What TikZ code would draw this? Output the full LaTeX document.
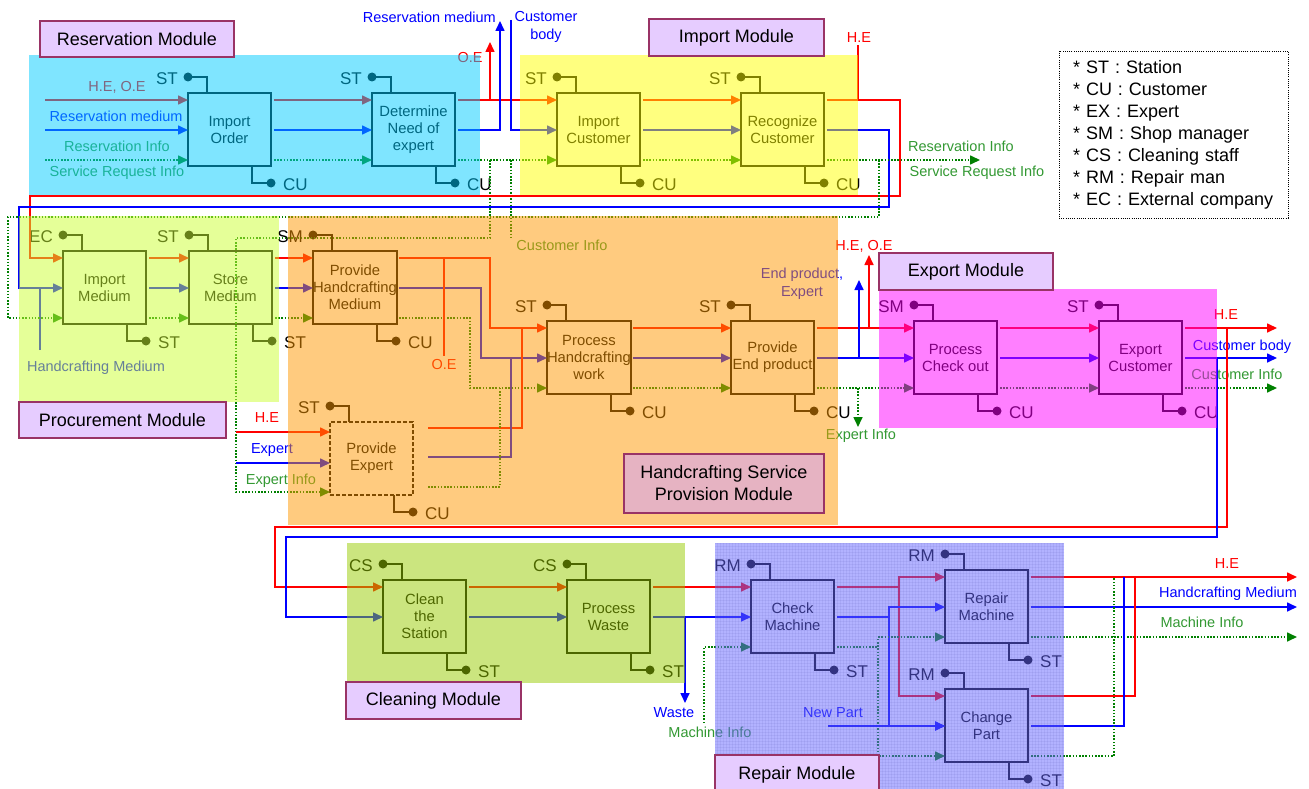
\documentclass[tikz,border=0pt]{standalone}
\usepackage{fontspec}
\setmainfont{Liberation Sans}
\usetikzlibrary{arrows.meta,patterns}
\definecolor{cRed}{RGB}{255,0,0}
\definecolor{cBlue}{RGB}{0,0,255}
\definecolor{cGreen}{RGB}{0,128,0}
\definecolor{tGreen}{RGB}{51,153,51}
\definecolor{ovCyan}{RGB}{0,204,255}
\definecolor{ovYellow}{RGB}{255,255,0}
\definecolor{ovProc}{RGB}{204,255,51}
\definecolor{ovOrange}{RGB}{255,153,0}
\definecolor{ovMag}{RGB}{255,0,255}
\definecolor{ovClean}{RGB}{153,204,0}
\definecolor{ovRepair}{RGB}{102,102,255}
\definecolor{modF}{RGB}{230,204,255}
\definecolor{modFb}{RGB}{230,179,194}
\definecolor{modB}{RGB}{153,51,102}
\newcommand\dgBoxFont{\fontsize{14.8}{17}\selectfont}
\newcommand\dgLabFont{\fontsize{14.5}{18}\selectfont}
\newcommand\dgActFont{\fontsize{17}{20}\selectfont}
\newcommand\dgModFont{\fontsize{18}{22}\selectfont}
\tikzset{
  procbox/.style={draw=black, line width=1.3pt, minimum width=83pt, minimum height=73pt,
    inner sep=0pt, outer sep=0pt, align=center, font=\dgBoxFont},
  dashedbox/.style={dash pattern=on 4pt off 2pt},
  actor/.style={font=\dgActFont, inner sep=0pt, text=black},
  conn/.style={draw=black, line width=2pt},
  lab/.style={font=\dgLabFont, inner sep=0pt, text height=10.5pt, text depth=0pt},
  labm/.style={font=\dgLabFont, inner sep=0pt, align=center},
  ln/.style={line width=1.6pt},
  lnR/.style={ln, draw=cRed},
  lnB/.style={ln, draw=cBlue},
  lnG/.style={ln, draw=cGreen, dash pattern=on 1.5pt off 1.7pt},
  arr/.style={-{Triangle[length=10pt,width=9pt]}},
  modlab/.style={draw=modB, fill=modF, line width=1.2pt, font=\dgModFont, inner sep=0pt,
    outer sep=0pt, anchor=north west, align=center},
  ov/.style={opacity=0.5},
}
% #1 options, #2 name, #3 left x, #4 top y, #5 text, #6 top actor, #7 bottom actor
\newcommand\dgProc[7][]{%
  \node[procbox,#1,anchor=north west] (#2) at (#3,#4) {#5};
  \coordinate (#2-i1) at ({#3},{#4+7});
  \coordinate (#2-i2) at ({#3},{#4+37});
  \coordinate (#2-i3) at ({#3},{#4+67});
  \coordinate (#2-o1) at ({#3+86},{#4+7});
  \coordinate (#2-o2) at ({#3+86},{#4+37});
  \coordinate (#2-o3) at ({#3+86},{#4+67});
  \coordinate (#2-td) at ({#3},{#4-16});
  \coordinate (#2-bd) at ({#3+83},{#4+90});
  \draw[conn] (#2-td) -| ({#3+19},{#4});
  \fill[black] (#2-td) circle[radius=4.5pt];
  \node[actor,anchor=east] (#2-tl) at ({#3-10},{#4-14}) {#6};
  \draw[conn] ({#3+64},{#4+73}) |- (#2-bd);
  \fill[black] (#2-bd) circle[radius=4.5pt];
  \node[actor,anchor=west] (#2-bt) at ({#3+95},{#4+92}) {#7};
}
\begin{document}
\begin{tikzpicture}[x=1pt,y=-1pt]
\useasboundingbox (0,0) rectangle (1309,789);
\fill[white] (0,0) rectangle (1309,789);

% ---------------- process boxes ----------------
\dgProc{io}{188}{93}{Import\\Order}{ST}{CU}
\dgProc{dn}{372}{93}{Determine\\Need of\\expert}{ST}{CU}
\dgProc{ic}{557}{93}{Import\\Customer}{ST}{CU}
\dgProc{rc}{741}{93}{Recognize\\Customer}{ST}{CU}
\dgProc{im}{63}{251}{Import\\Medium}{EC}{ST}
\dgProc{sm}{189}{251}{Store\\Medium}{ST}{ST}
\dgProc{phm}{313}{251}{Provide\\Handcrafting\\Medium}{SM}{CU}
\dgProc{phw}{547}{321}{Process\\Handcrafting\\work}{ST}{CU}
\dgProc{pep}{731}{321}{Provide\\End product}{ST}{CU}
\dgProc{pco}{914}{321}{Process\\Check out}{SM}{CU}
\dgProc{ec}{1099}{321}{Export\\Customer}{ST}{CU}
\dgProc[dashedbox]{pe}{330}{422}{Provide\\Expert}{ST}{CU}
\coordinate (pe-i1) at (330,432);
\coordinate (pe-i2) at (330,463);
\coordinate (pe-i3) at (330,492);
\coordinate (pe-o1) at (428,428);
\coordinate (pe-o2) at (428,457);
\coordinate (pe-o3) at (428,487);
\dgProc{cs}{383}{580}{Clean\\the\\Station}{CS}{ST}
\dgProc{pw}{567}{580}{Process\\Waste}{CS}{ST}
\dgProc{cm}{751}{580}{Check\\Machine}{RM}{ST}
\dgProc{rm}{945}{570}{Repair\\Machine}{RM}{ST}
\dgProc{cp}{945}{689}{Change\\Part}{RM}{ST}

% ---------------- reservation row ----------------
\coordinate (s1) at (45,100);
\coordinate (s2) at (45,130);
\coordinate (s3) at (45,160);
\draw[lnR,arr] (s1) -- (io-i1);
\draw[lnB,arr] (s2) -- (io-i2);
\draw[lnG,arr] (s3) -- (io-i3);
\node[lab,text=cRed] (l1) at (117,86) {H.E, O.E};
\node[lab,text=cBlue] (l2) at (116,116) {Reservation medium};
\node[lab,text=tGreen] (l3) at (117,146) {Reservation Info};
\node[lab,text=tGreen] (l4) at (117,171) {Service Request Info};

\draw[lnR,arr] (io-o1) -- (dn-i1);
\draw[lnB,arr] (io-o2) -- (dn-i2);
\draw[lnG,arr] (io-o3) -- (dn-i3);

\draw[lnR,arr] (dn-o1) -- (ic-i1);
\coordinate (oeA) at (490,100);
\coordinate (oeT) at (490,42);
\draw[lnR,arr] (oeA) -- (oeT);
\node[lab,text=cRed] (l5) at (470,57) {O.E};
\coordinate (rmT) at (500,21);
\draw[lnB,arr] (dn-o2) -| (rmT);
\node[lab,text=cBlue,anchor=east] (l6) at (496,17) {Reservation medium};
\coordinate (cbT) at (511,20);
\draw[lnB,arr] (cbT) |- (ic-i2);
\node[labm,text=cBlue] (l7) at (546,27) {Customer\\body};
\draw[lnG,arr] (dn-o3) -- (ic-i3);
\coordinate (ciA) at (490,160);
\coordinate (ciB) at (236,238);
\draw[lnG,arr] (ciA) |- (ciB) |- (pe-i3);
\coordinate (ciC) at (511,160);
\coordinate (ciD) at (511,238);
\draw[lnG] (ciC) -- (ciD);
\node[lab,text=tGreen] (l8) at (562,245) {Customer Info};

\draw[lnR,arr] (ic-o1) -- (rc-i1);
\draw[lnB,arr] (ic-o2) -- (rc-i2);
\draw[lnG,arr] (ic-o3) -- (rc-i3);

\coordinate (rA) at (900,196);
\coordinate (rB) at (30,230);
\draw[lnR,arr] (rc-o1) -| (rA) -| (rB) |- (im-i1);
\coordinate (heA) at (858,100);
\coordinate (heT) at (858,45);
\draw[lnR] (heA) -- (heT);
\node[lab,text=cRed] (l9) at (859,37) {H.E};
\coordinate (bA) at (889,207);
\coordinate (bB) at (19,250);
\draw[lnB,arr] (rc-o2) -| (bA) -| (bB) |- (im-i2);
\coordinate (hmS) at (40,350);
\coordinate (hmE) at (40,288);
\draw[lnB] (hmS) -- (hmE);
\node[lab,text=cBlue] (l10) at (96,366) {Handcrafting Medium};
\coordinate (riE) at (980,160);
\draw[lnG,arr] (rc-o3) -- (riE);
\node[lab,text=tGreen] (l11) at (961,146) {Reservation Info};
\node[lab,text=tGreen] (l12) at (977,171) {Service Request Info};
\coordinate (gA) at (879,160);
\coordinate (gB) at (8,217);
\draw[lnG,arr] (gA) |- (gB) |- (im-i3);

% ---------------- procurement / handcrafting ----------------
\draw[lnR,arr] (im-o1) -- (sm-i1);
\draw[lnB,arr] (im-o2) -- (sm-i2);
\draw[lnG,arr] (im-o3) -- (sm-i3);
\draw[lnR,arr] (sm-o1) -- (phm-i1);
\draw[lnB,arr] (sm-o2) -- (phm-i2);
\draw[lnG,arr] (sm-o3) -- (phm-i3);

\coordinate (pA) at (490,290);
\coordinate (pB) at (481,320);
\coordinate (pC) at (470,350);
\draw[lnR,arr] (phm-o1) -| (pA) |- (phw-i1);
\draw[lnB,arr] (phm-o2) -| (pB) |- (phw-i2);
\draw[lnG,arr] (phm-o3) -| (pC) |- (phw-i3);
\coordinate (oe2A) at (444,258);
\coordinate (oe2E) at (444,356);
\draw[lnR] (oe2A) -- (oe2E);
\node[lab,text=cRed] (l13) at (444,364) {O.E};

\coordinate (pD) at (522,328);
\coordinate (pE) at (511,358);
\coordinate (pF) at (500,388);
\draw[lnR] (pe-o1) -| (pD);
\draw[lnB] (pe-o2) -| (pE);
\draw[lnG] (pe-o3) -| (pF);
\coordinate (peS1) at (236,432);
\coordinate (peS2) at (236,463);
\draw[lnR,arr] (peS1) -- (pe-i1);
\draw[lnB,arr] (peS2) -- (pe-i2);
\node[lab,text=cRed] (l14) at (267,417) {H.E};
\node[lab,text=cBlue] (l15) at (272,448) {Expert};
\node[lab,text=tGreen] (l16) at (281,479) {Expert Info};

\draw[lnR,arr] (phw-o1) -- (pep-i1);
\draw[lnB,arr] (phw-o2) -- (pep-i2);
\draw[lnG,arr] (phw-o3) -- (pep-i3);

\draw[lnR,arr] (pep-o1) -- (pco-i1);
\draw[lnB,arr] (pep-o2) -- (pco-i2);
\draw[lnG,arr] (pep-o3) -- (pco-i3);
\coordinate (epA) at (869,328);
\coordinate (epT) at (869,255);
\draw[lnR,arr] (epA) -- (epT);
\node[lab,text=cRed] (l17) at (864,245) {H.E, O.E};
\coordinate (epB) at (859,358);
\coordinate (epU) at (859,280);
\draw[lnB,arr] (epB) -- (epU);
\node[labm,text=cBlue] (l18) at (802,284) {End product,\\Expert};
\coordinate (epC) at (858,388);
\coordinate (epD) at (858,427);
\draw[lnG,arr] (epC) -- (epD);
\node[lab,text=tGreen] (l19) at (861,434) {Expert Info};

\draw[lnR,arr] (pco-o1) -- (ec-i1);
\draw[lnB,arr] (pco-o2) -- (ec-i2);
\draw[lnG,arr] (pco-o3) -- (ec-i3);

\coordinate (ecE1) at (1277,328);
\coordinate (ecE2) at (1277,358);
\coordinate (ecE3) at (1277,388);
\draw[lnR,arr] (ec-o1) -- (ecE1);
\draw[lnB,arr] (ec-o2) -- (ecE2);
\draw[lnG,arr] (ec-o3) -- (ecE3);
\node[lab,text=cRed] (l20) at (1226,314) {H.E};
\node[lab,text=cBlue] (l21) at (1242,345) {Customer body};
\node[lab,text=tGreen] (l22) at (1237,374) {Customer Info};
\coordinate (xA) at (1227,328);
\coordinate (xB) at (275,527);
\draw[lnR,arr] (xA) |- (xB) |- (cs-i1);
\coordinate (yA) at (1217,358);
\coordinate (yB) at (286,537);
\draw[lnB,arr] (yA) |- (yB) |- (cs-i2);

% ---------------- cleaning / repair ----------------
\draw[lnR,arr] (cs-o1) -- (pw-i1);
\draw[lnB,arr] (cs-o2) -- (pw-i2);
\draw[lnR,arr] (pw-o1) -- (cm-i1);
\draw[lnB,arr] (pw-o2) -- (cm-i2);
\coordinate (wA) at (685,617);
\coordinate (wE) at (685,703);
\draw[lnB,arr] (wA) -- (wE);
\node[lab,text=cBlue] (l23) at (674,712) {Waste};
\coordinate (miS) at (704,723);
\draw[lnG,arr] (miS) |- (cm-i3);
\node[lab,text=tGreen] (l24) at (710,732) {Machine Info};

\coordinate (rpA) at (899,582);
\coordinate (rpB) at (889,612);
\coordinate (rpC) at (878,642);
\draw[lnR,arr] (cm-o1) -| (rpA) |- (rm-i1);
\draw[lnR,arr] (rpA) |- (cp-i1);
\draw[lnB,arr] (cm-o2) -| (rpB) |- (rm-i2);
\draw[lnB,arr] (rpB) |- (cp-i2);
\draw[lnG,arr] (cm-o3) -| (rpC) |- (rm-i3);
\draw[lnG,arr] (rpC) |- (cp-i3);
\coordinate (npS) at (828,726);
\draw[lnB,arr] (npS) -- (cp-i2);
\node[lab,text=cBlue] (l25) at (833,712) {New Part};

\coordinate (rmE1) at (1297,577);
\coordinate (rmE2) at (1297,607);
\coordinate (rmE3) at (1297,637);
\draw[lnR,arr] (rm-o1) -- (rmE1);
\draw[lnB,arr] (rm-o2) -- (rmE2);
\draw[lnG,arr] (rm-o3) -- (rmE3);
\node[lab,text=cRed] (l26) at (1227,563) {H.E};
\node[lab,text=cBlue] (l27) at (1228,592) {Handcrafting Medium};
\node[lab,text=tGreen] (l28) at (1202,622) {Machine Info};
\coordinate (cpR) at (1135,577);
\coordinate (cpB) at (1124,577);
\coordinate (cpG) at (1114,577);
\draw[lnR] (cp-o1) -| (cpR);
\draw[lnB] (cp-o2) -| (cpB);
\draw[lnG] (cp-o3) -| (cpG);

% ---------------- module overlays ----------------
\fill[ovCyan,ov] (29,55) rectangle (480,195);
\fill[ovYellow,ov] (520,55) rectangle (858,195);
\fill[ovProc,ov] (19,216) rectangle (279,402);
\fill[ovOrange,ov] (288,216) rectangle (838,525);
\fill[ovMag,ov] (879,289) rectangle (1217,428);
\fill[ovClean,ov] (347,543) rectangle (685,683);
\fill[ovRepair,ov] (715,543) rectangle (1064,789);
\fill[pattern=grid, pattern color=ovRepair!60!black, opacity=0.08] (715,543) rectangle (1064,789);

% ---------------- module labels ----------------
\node[modlab, minimum width=194pt, minimum height=36pt] (mRes) at (40,21) {Reservation Module};
\node[modlab, minimum width=175pt, minimum height=37pt] (mImp) at (649,19) {Import Module};
\node[modlab, minimum width=207pt, minimum height=36pt] (mPro) at (19,402) {Procurement Module};
\node[modlab, fill=modFb, minimum width=200pt, minimum height=59pt] (mHan) at (624,454) {Handcrafting Service\\Provision Module};
\node[modlab, minimum width=174pt, minimum height=37pt] (mExp) at (879,253) {Export Module};
\node[modlab, minimum width=175pt, minimum height=37pt] (mCle) at (346,682) {Cleaning Module};
\node[modlab, minimum width=164pt, minimum height=40pt] (mRep) at (715,755) {Repair Module};

% ---------------- legend ----------------
\node[draw=black, line width=0.8pt, dash pattern=on 1pt off 1.2pt, anchor=north west,
  minimum height=167pt, text width=201pt, inner xsep=14pt, inner ysep=0pt, outer sep=0pt,
  align=left, font=\dgModFont] (legend) at (1059,51)
  {{*} ST : Station\\{*} CU : Customer\\{*} EX : Expert\\{*} SM : Shop manager\\{*} CS : Cleaning staff\\{*} RM : Repair man\\{*} EC : External company};
\end{tikzpicture}
\end{document}
